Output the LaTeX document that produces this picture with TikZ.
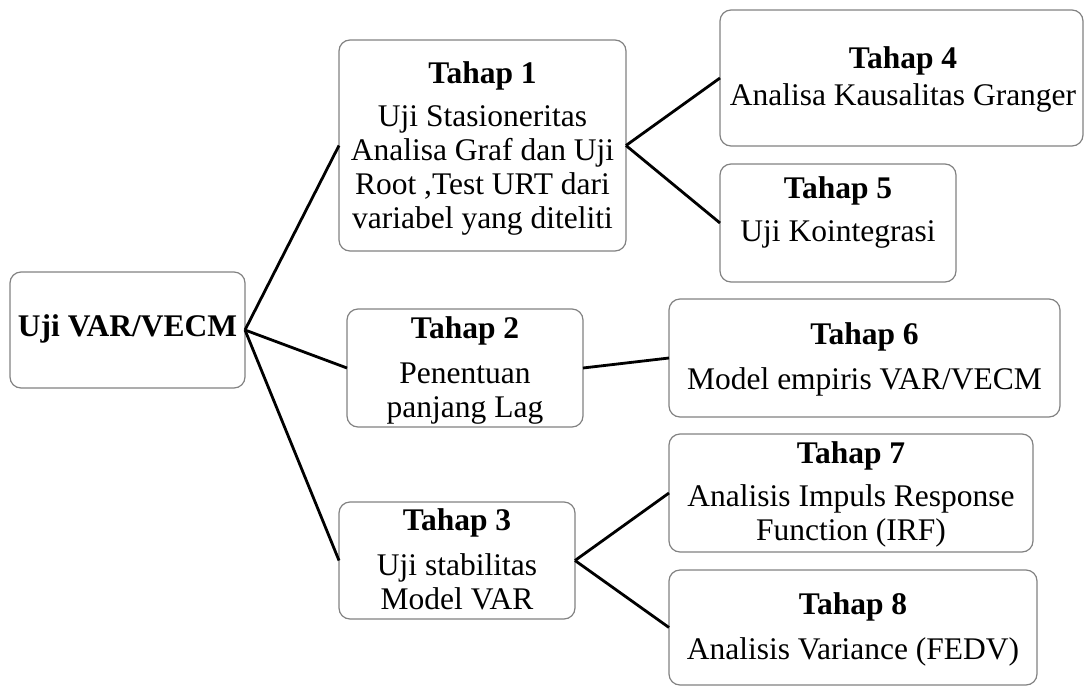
\documentclass[tikz,border=0pt]{standalone}
\usepackage{fontspec}
\setmainfont{Liberation Serif}
\definecolor{boxgray}{RGB}{130,130,130}
\begin{document}
\begin{tikzpicture}[x=1pt,y=-1pt,
  box/.style={draw=boxgray, line width=1.2pt, rounded corners=11pt, fill=white,
              inner sep=0pt, outer sep=0pt, minimum width=#1},
  txt/.style={align=center, inner sep=0pt, font=\fontsize{31.5}{34}\selectfont},
  conn/.style={line width=2.8pt, black}]
\useasboundingbox (0,0) rectangle (1085,686);

% boxes
\node[box=235pt, minimum height=116pt] (uji) at (127.5,330) {};
\node[box=287pt, minimum height=211pt] (t1) at (482.5,145.5) {};
\node[box=363pt, minimum height=136pt] (t4) at (901.5,78) {};
\node[box=236pt, minimum height=118pt] (t5) at (838,223) {};
\node[box=236pt, minimum height=118pt] (t2) at (465,368) {};
\node[box=391pt, minimum height=118pt] (t6) at (864.5,358) {};
\node[box=236pt, minimum height=117pt] (t3) at (457,560.5) {};
\node[box=364pt, minimum height=118pt] (t7) at (851,493) {};
\node[box=368pt, minimum height=115pt] (t8) at (853,627.5) {};

% texts
\node[txt] (ujit) at (127.5,329) {\textbf{Uji VAR/VECM}};
\node[txt] (t1t) at (482.5,148) {\textbf{Tahap 1}\\[9pt]Uji Stasioneritas\\Analisa Graf dan Uji\\Root ,Test URT dari\\variabel yang diteliti};
\node[txt] (t4t) at (903,79) {\textbf{Tahap 4}\\[3pt]Analisa Kausalitas Granger};
\node[txt] (t5t) at (838,212) {\textbf{Tahap 5}\\[9pt]Uji Kointegrasi};
\node[txt] (t2t) at (465,370) {\textbf{Tahap 2}\\[11pt]Penentuan\\panjang Lag};
\node[txt] (t3t) at (457,559) {\textbf{Tahap 3}\\[11pt]Uji stabilitas\\Model VAR};
\node[txt] (t6t) at (864.5,359) {\textbf{Tahap 6}\\[11pt]Model empiris VAR/VECM};
\node[txt] (t7t) at (851,494) {\textbf{Tahap 7}\\[9pt]Analisis Impuls Response\\Function (IRF)};
\node[txt] (t8t) at (853,629) {\textbf{Tahap 8}\\[11pt]Analisis Variance (FEDV)};

% connectors
\draw[conn] (uji.east) -- (t1.west);
\draw[conn] (uji.east) -- (t2.west);
\draw[conn] (uji.east) -- (t3.west);
\draw[conn] (t1.east) -- (t4.west);
\draw[conn] (t1.east) -- (t5.west);
\draw[conn] (t2.east) -- (t6.west);
\draw[conn] (t3.east) -- (t7.west);
\draw[conn] (t3.east) -- (t8.west);
\end{tikzpicture}
\end{document}
